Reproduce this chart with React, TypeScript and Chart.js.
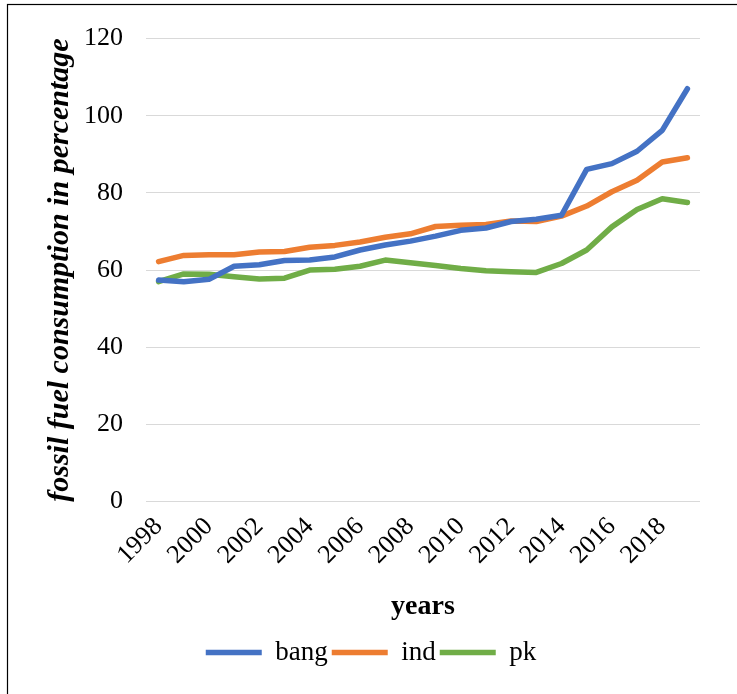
import React, { useEffect, useRef } from "react";
import { Chart, registerables } from "chart.js";

Chart.register(...registerables);

const years = [
  "1998", "1999", "2000", "2001", "2002", "2003", "2004", "2005", "2006", "2007", "2008",
  "2009", "2010", "2011", "2012", "2013", "2014", "2015", "2016", "2017", "2018", "2019",
];

const bang = [
  57.4, 57.0, 57.6, 61.0, 61.4, 62.5, 62.6, 63.4, 65.2, 66.5, 67.5,
  68.8, 70.3, 70.9, 72.6, 73.2, 74.2, 86.1, 87.6, 90.8, 96.2, 107.0,
];

const ind = [
  62.2, 63.8, 64.0, 64.0, 64.7, 64.8, 65.9, 66.4, 67.3, 68.5, 69.4,
  71.3, 71.6, 71.8, 72.7, 72.6, 74.0, 76.6, 80.3, 83.3, 88.0, 89.1,
];

const pk = [
  57.0, 59.0, 58.9, 58.3, 57.7, 57.9, 60.0, 60.2, 61.0, 62.6, 61.9,
  61.2, 60.4, 59.8, 59.6, 59.4, 61.7, 65.2, 71.2, 75.7, 78.5, 77.5,
];

const FONT = "'Liberation Serif', 'Times New Roman', serif";

// White page with a thin black frame whose right and bottom edges run off the canvas
const frame = {
  id: "frame",
  beforeDraw(chart: Chart) {
    const { ctx, width, height } = chart;
    ctx.save();
    ctx.fillStyle = "#ffffff";
    ctx.fillRect(0, 0, width, height);
    ctx.strokeStyle = "#000000";
    ctx.lineWidth = 1.2;
    ctx.strokeRect(7.5, 4.5, width + 20, height + 20);
    ctx.restore();
  },
};

export default function App() {
  const ref = useRef<HTMLCanvasElement | null>(null);

  useEffect(() => {
    if (!ref.current) return;
    const line = (label: string, data: number[], color: string) => ({
      label,
      data,
      borderColor: color,
      backgroundColor: color,
      borderWidth: 5.5,
      borderCapStyle: "round" as const,
      borderJoinStyle: "round" as const,
      pointRadius: 0,
      tension: 0,
    });
    const chart = new Chart(ref.current, {
      type: "line",
      data: {
        labels: years,
        datasets: [
          line("bang", bang, "#4472C4"),
          line("ind", ind, "#ED7D31"),
          line("pk", pk, "#70AD47"),
        ],
      },
      options: {
        responsive: false,
        animation: false,
        layout: { padding: { left: 42, right: 37, top: 22, bottom: 18 } },
        plugins: {
          legend: {
            position: "bottom",
            labels: {
              usePointStyle: true,
              pointStyle: "line",
              pointStyleWidth: 56,
              padding: 4,
              color: "#000000",
              font: { family: FONT, size: 27 },
            },
          },
          tooltip: { enabled: false },
        },
        scales: {
          x: {
            offset: true,
            grid: { display: false },
            border: { display: false },
            ticks: {
              autoSkip: false,
              minRotation: 45,
              maxRotation: 45,
              padding: 2,
              color: "#000000",
              font: { family: FONT, size: 26 },
              callback: (_v, i) => (i % 2 === 0 ? years[i] : ""),
            },
            title: {
              display: true,
              text: "years",
              color: "#000000",
              font: { family: FONT, size: 28, weight: "bold" },
              padding: { top: 18, bottom: 11 },
            },
          },
          y: {
            min: 0,
            max: 120,
            grid: { color: "#D9D9D9", lineWidth: 1, drawTicks: false },
            border: { display: false },
            ticks: {
              stepSize: 20,
              padding: 23,
              color: "#000000",
              font: { family: FONT, size: 26 },
            },
            title: {
              display: true,
              text: "fossil fuel consumption in percentage",
              color: "#000000",
              font: { family: FONT, size: 30, weight: "bold", style: "italic" },
              padding: { top: 0, bottom: -17 },
            },
          },
        },
      },
      plugins: [frame],
    });
    return () => chart.destroy();
  }, []);

  return (
    <div style={{ position: "fixed", left: 0, top: 0, width: 737, height: 694 }}>
      <canvas ref={ref} width={737} height={694} />
    </div>
  );
}
